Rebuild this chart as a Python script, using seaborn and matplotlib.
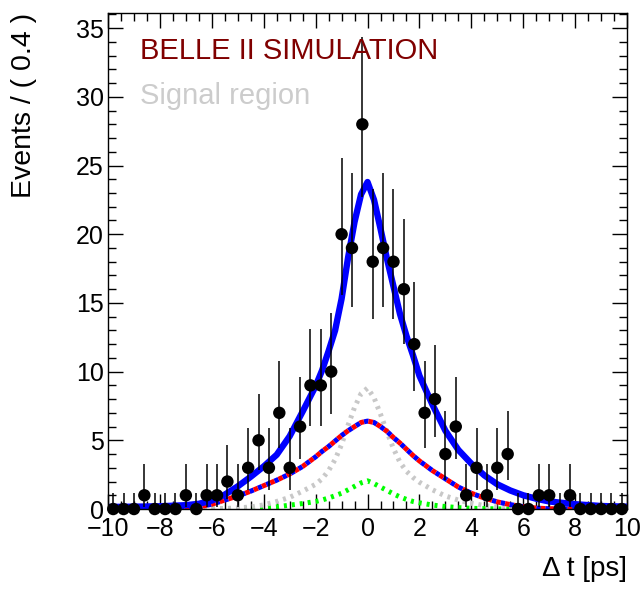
import math
import numpy as np
import matplotlib
matplotlib.use("Agg")
import matplotlib.pyplot as plt
from matplotlib.ticker import MultipleLocator
import seaborn as sns

# ---------------- data ----------------
bin_x = [-9.8, -9.4, -9.0, -8.6, -8.2, -7.8, -7.4, -7.0, -6.6, -6.2,
         -5.8, -5.4, -5.0, -4.6, -4.2, -3.8, -3.4, -3.0, -2.6, -2.2,
         -1.8, -1.4, -1.0, -0.6, -0.2, 0.2, 0.6, 1.0, 1.4, 1.8,
         2.2, 2.6, 3.0, 3.4, 3.8, 4.2, 4.6, 5.0, 5.4, 5.8,
         6.2, 6.6, 7.0, 7.4, 7.8, 8.2, 8.6, 9.0, 9.4, 9.8]
counts = [0, 0, 0, 1, 0, 0, 0, 1, 0, 1,
          1, 2, 1, 3, 5, 3, 7, 3, 6, 9,
          9, 10, 20, 19, 28, 18, 19, 18, 16, 12,
          7, 8, 4, 6, 1, 3, 1, 3, 4, 0,
          0, 1, 1, 0, 1, 0, 0, 0, 0, 0]

curve_x = [-10, -9, -8, -7, -6.5, -6, -5.5, -5, -4.5, -4, -3.5, -3, -2.5, -2,
           -1.75, -1.5, -1.25, -1, -0.75, -0.5, -0.25, 0, 0.25, 0.5, 0.75, 1,
           1.25, 1.5, 1.75, 2, 2.5, 3, 3.5, 4, 4.5, 5, 5.5, 6, 6.5, 7, 8, 9, 10]
total_fit = [0.15, 0.17, 0.2, 0.28, 0.38, 0.62, 1.05, 1.65, 2.35, 3.1, 3.95, 5.3, 7.1, 8.95,
             10.1, 11.5, 13.0, 15.3, 18.3, 20.9, 22.9, 23.8, 22.5, 20.4, 18.2, 16.2,
             14.2, 12.6, 11.2, 9.7, 7.6, 5.7, 4.3, 3.3, 2.45, 1.8, 1.35, 1.0, 0.75, 0.55, 0.35, 0.22, 0.17]
signal_a = [0.0, 0.0, 0.01, 0.05, 0.15, 0.35, 0.65, 0.95, 1.3, 1.7, 2.1, 2.55, 3.1, 3.8,
            4.2, 4.55, 4.95, 5.35, 5.7, 6.0, 6.3, 6.4, 6.3, 6.0, 5.65, 5.2,
            4.8, 4.35, 3.9, 3.5, 2.8, 2.2, 1.6, 1.15, 0.8, 0.52, 0.32, 0.17, 0.07, 0.02, 0.0, 0.0, 0.0]
grey_comp = [0.0, 0.0, 0.0, 0.0, 0.01, 0.02, 0.04, 0.08, 0.15, 0.3, 0.55, 0.85, 1.3, 1.8,
             2.2, 2.8, 3.6, 4.7, 6.1, 7.4, 8.4, 8.8, 8.1, 6.9, 5.6, 4.4,
             3.4, 2.75, 2.3, 1.95, 1.4, 0.95, 0.65, 0.42, 0.25, 0.15, 0.09, 0.05, 0.03, 0.01, 0.0, 0.0, 0.0]
green_comp = [0.0, 0.0, 0.0, 0.0, 0.0, 0.0, 0.01, 0.02, 0.04, 0.08, 0.16, 0.28, 0.4, 0.55,
              0.66, 0.8, 0.97, 1.15, 1.4, 1.65, 1.9, 2.05, 1.85, 1.6, 1.35, 1.1,
              0.88, 0.7, 0.55, 0.45, 0.29, 0.18, 0.1, 0.05, 0.03, 0.01, 0.0, 0.0, 0.0, 0.0, 0.0, 0.0, 0.0]

x_ticks = [-10, -8, -6, -4, -2, 0, 2, 4, 6, 8, 10]
y_ticks = [0, 5, 10, 15, 20, 25, 30, 35]


# Poisson central interval (RooFit style) for error bars
def pois_cdf(n, mu):
    s, term = 0.0, math.exp(-mu)
    for k in range(n + 1):
        if k > 0:
            term *= mu / k
        s += term
    return s


def solve(f, lo, hi):
    for _ in range(100):
        mid = 0.5 * (lo + hi)
        if f(mid) > 0:
            lo = mid
        else:
            hi = mid
    return 0.5 * (lo + hi)


alpha = 0.5 * (1 - 0.682689)
err_lo, err_hi = [], []
for n in counts:
    if n == 0:
        err_lo.append(0.0)
        err_hi.append(-math.log(1 - 0.682689))
        continue
    up = solve(lambda m: pois_cdf(n, m) - alpha, n, n + 10 * math.sqrt(n) + 10)
    low = solve(lambda m: alpha - (1 - pois_cdf(n - 1, m)), 0.0, n)
    err_lo.append(n - low)
    err_hi.append(up - n)

# ---------------- style ----------------
sns.set_style("ticks")
plt.rcParams["font.family"] = ["Liberation Sans", "DejaVu Sans"]
plt.rcParams["text.color"] = "black"
plt.rcParams["axes.labelcolor"] = "black"
plt.rcParams["xtick.color"] = "black"
plt.rcParams["ytick.color"] = "black"

fig = plt.figure(figsize=(6.43, 5.95), dpi=100)
ax = fig.add_axes([0.168, 0.1445, 0.8072, 0.8336])

# curves
sns.lineplot(x=curve_x, y=green_comp, ax=ax, color="#00ff00", lw=3.6,
             linestyle=(0, (0.6, 1.0)), zorder=2)
sns.lineplot(x=curve_x, y=grey_comp, ax=ax, color="#c8c8c8", lw=3.6,
             linestyle=(0, (0.6, 1.0)), zorder=2)
sns.lineplot(x=curve_x, y=signal_a, ax=ax, color="#0000ff", lw=3.6,
             linestyle=(0, (0.9, 0.9)), zorder=2)
sns.lineplot(x=curve_x, y=signal_a, ax=ax, color="#ff0000", lw=3.6,
             linestyle=(0.9, (0.9, 0.9)), zorder=2)
sns.lineplot(x=curve_x, y=total_fit, ax=ax, color="#0000ff", lw=4.6, zorder=2)

# data
ax.errorbar(bin_x, counts, yerr=[err_lo, err_hi], fmt="none", ecolor="black",
            elinewidth=1.1, capsize=0, zorder=3, clip_on=False)
sns.scatterplot(x=bin_x, y=counts, ax=ax, color="black", s=80, edgecolor="none",
                zorder=4, clip_on=False)

ax.set_xlim(-10, 10)
ax.set_ylim(0, 36.1)
ax.set_xticks(x_ticks)
ax.set_yticks(y_ticks)
ax.xaxis.set_minor_locator(MultipleLocator(0.5))
ax.yaxis.set_minor_locator(MultipleLocator(1))
ax.tick_params(which="both", direction="in", top=True, right=True, width=1.0,
               colors="black", labelcolor="black", labelsize=18)
ax.tick_params(which="major", length=11)
ax.tick_params(which="minor", length=5.5)
ax.tick_params(axis="x", pad=6)
ax.tick_params(axis="y", pad=3)
for sp in ax.spines.values():
    sp.set_linewidth(1.0)
    sp.set_color("black")

ax.set_xlabel("Δ t [ps]", fontsize=20, loc="right", color="black")
ax.xaxis.set_label_coords(1.0, -0.095)
ax.set_ylabel("Events / ( 0.4 )", fontsize=20.5, loc="top", color="black")
ax.yaxis.set_label_coords(-0.137, 1.0)

ax.text(0.0617, 0.9066, "BELLE II SIMULATION", transform=ax.transAxes,
        fontsize=21, color="#800000", ha="left", va="baseline")
ax.text(0.0617, 0.8165, "Signal region", transform=ax.transAxes,
        fontsize=21, color="#cccccc", ha="left", va="baseline")

fig.savefig("out.png", dpi=100)
